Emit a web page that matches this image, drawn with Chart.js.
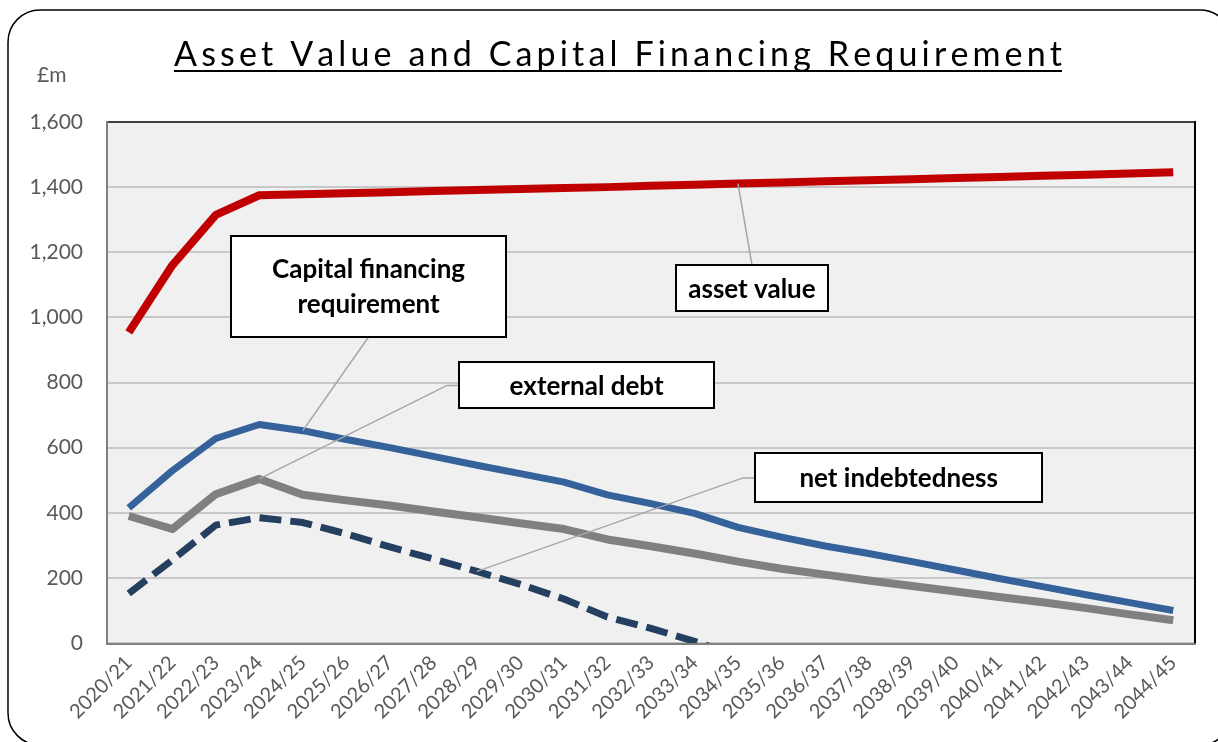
<!DOCTYPE html>
<html>
<head>
<meta charset="utf-8">
<script src="https://cdn.jsdelivr.net/npm/chart.js@4.4.0/dist/chart.umd.min.js"></script>
<style>
  html, body { margin: 0; padding: 0; background: #fff; }
  canvas { display: block; }
</style>
</head>
<body>
<canvas id="cfrChart" width="1218" height="742"></canvas>
<script>
// financial years on the x axis
const years = [
  '2020/21', '2021/22', '2022/23', '2023/24', '2024/25', '2025/26', '2026/27', '2027/28',
  '2028/29', '2029/30', '2030/31', '2031/32', '2032/33', '2033/34', '2034/35', '2035/36',
  '2036/37', '2037/38', '2038/39', '2039/40', '2040/41', '2041/42', '2042/43', '2043/44', '2044/45'
]

// £m
const assetValue = [954, 1160, 1315, 1375, 1378, 1381, 1384, 1388, 1391, 1394, 1397, 1400, 1404,
  1407, 1411, 1414, 1418, 1421, 1424, 1428, 1431, 1435, 1438, 1442, 1446]
const capitalFinancing = [415, 529, 628, 671, 652, 625, 600, 573, 546, 520, 494, 455, 428,
  398, 355, 325, 298, 275, 250, 224, 198, 173, 148, 124, 100]
const externalDebt = [390, 350, 457, 504, 455, 438, 422, 404, 386, 368, 350, 318, 297,
  275, 250, 228, 210, 192, 175, 158, 141, 125, 107, 88, 70]
// goes below zero after 2033/34 and is cut off by the axis
const netIndebtedness = [152, 255, 362, 385, 370, 335, 295, 258, 220, 180, 135, 80, 45,
  5, -40, -85, -130, -175, -220, -265, -310, -355, -400, -445, -490]

const yMin = 0
const yMax = 1600
const yStep = 200

const titleText = 'Asset Value and Capital Financing Requirement'
const unitText = '£m'

// callout boxes: centre in data units (category index, value), leader goes to a data point
const callouts = [
  {lines: ['Capital financing', 'requirement'], dataset: 1, point: 4, at: [5.51, 1096], w: 275, h: 101, from: 'bottom'},
  {lines: ['asset value'], dataset: 0, point: 14, at: [14.32, 1089], w: 152, h: 46, from: 'top'},
  {lines: ['external debt'], dataset: 2, point: 3, at: [10.52, 791], w: 255, h: 46, from: 'left'},
  {lines: ['net indebtedness'], dataset: 3, point: 8, at: [17.69, 507], w: 287, h: 49, from: 'left'}
]

const FONT = 'Lato, "Open Sans", sans-serif'

const frame = {
  id: 'frame',
  beforeDraw(chart) {
    const {ctx, chartArea: a} = chart
    ctx.save()
    ctx.fillStyle = '#f0f0f0'
    ctx.fillRect(a.left, a.top, a.right - a.left, a.bottom - a.top)
    ctx.restore()
  },
  afterDatasetsDraw(chart) {
    const {ctx, chartArea: a} = chart
    ctx.save()
    ctx.lineWidth = 2
    ctx.strokeStyle = '#404040'
    ctx.beginPath(); ctx.moveTo(a.left, a.top); ctx.lineTo(a.right, a.top); ctx.stroke()
    ctx.strokeStyle = '#000'
    ctx.beginPath(); ctx.moveTo(a.right, a.top - 1); ctx.lineTo(a.right, a.bottom); ctx.stroke()
    ctx.strokeStyle = '#808080'
    ctx.beginPath(); ctx.moveTo(a.left, a.top - 1); ctx.lineTo(a.left, a.bottom + 1); ctx.lineTo(a.right + 1, a.bottom + 1); ctx.stroke()
    ctx.restore()
  }
}

const callout = {
  id: 'callout',
  afterDatasetsDraw(chart) {
    const {ctx} = chart
    const xs = chart.scales.x
    const ys = chart.scales.y
    callouts.forEach(c => {
      const pt = chart.getDatasetMeta(c.dataset).data[c.point]
      const cx = xs.getPixelForValue(c.at[0])
      const cy = ys.getPixelForValue(c.at[1])
      const left = Math.round(cx - c.w / 2)
      const top = Math.round(cy - c.h / 2)
      ctx.save()
      ctx.strokeStyle = '#a6a6a6'
      ctx.lineWidth = 1.5
      ctx.beginPath()
      if (c.from === 'bottom') {
        ctx.moveTo(cx, top + c.h)
      } else if (c.from === 'top') {
        ctx.moveTo(cx, top)
      } else {
        ctx.moveTo(left, cy)
        ctx.lineTo(left - 12, cy)
      }
      ctx.lineTo(pt.x, pt.y)
      ctx.stroke()

      ctx.fillStyle = '#fff'
      ctx.fillRect(left, top, c.w, c.h)
      ctx.strokeStyle = '#000'
      ctx.lineWidth = 2
      ctx.strokeRect(left, top, c.w, c.h)

      ctx.fillStyle = '#000'
      ctx.font = 'bold 26px ' + FONT
      ctx.textAlign = 'center'
      ctx.textBaseline = 'middle'
      const lh = 35
      const y0 = cy - (c.lines.length - 1) * lh / 2
      c.lines.forEach((t, i) => ctx.fillText(t, cx, y0 + i * lh + 1))
      ctx.restore()
    })
  }
}

const decor = {
  id: 'decor',
  afterDraw(chart) {
    const {ctx} = chart
    ctx.save()
    // rounded outer border
    ctx.strokeStyle = '#000'
    ctx.lineWidth = 1.5
    ctx.beginPath()
    ctx.roundRect(8, 10, 1224, 735, 32)
    ctx.stroke()

    // letter-spaced, underlined title
    ctx.font = '34px ' + FONT
    ctx.fillStyle = '#000'
    ctx.textBaseline = 'alphabetic'
    ctx.textAlign = 'left'
    const tLeft = 174, tRight = 1062
    const chars = titleText.split('')
    const widths = chars.map(ch => ctx.measureText(ch).width)
    const sum = widths.reduce((s, w) => s + w, 0)
    const gap = (tRight - tLeft - sum) / (chars.length - 1)
    let x = tLeft
    chars.forEach((ch, i) => { ctx.fillText(ch, x, 66); x += widths[i] + gap })
    ctx.fillRect(tLeft, 70, tRight - tLeft, 2)

    // unit label
    ctx.font = '21px ' + FONT
    ctx.fillStyle = '#595959'
    ctx.fillText(unitText, 37, 82)
    ctx.restore()
  }
}

const ctx = document.getElementById('cfrChart').getContext('2d')
const myChart = new Chart(ctx, {
  type: 'line',
  data: {
    labels: years,
    datasets: [
      {label: 'asset value', data: assetValue, borderColor: '#c00000', borderWidth: 8},
      {label: 'Capital financing requirement', data: capitalFinancing, borderColor: '#35629a', borderWidth: 7},
      {label: 'external debt', data: externalDebt, borderColor: '#808080', borderWidth: 8},
      {label: 'net indebtedness', data: netIndebtedness, borderColor: '#243f60', borderWidth: 7, borderDash: [22, 9]}
    ]
  },
  options: {
    responsive: false,
    animation: false,
    events: [],
    layout: {padding: {left: 0, top: 122, right: 23, bottom: 0}},
    elements: {
      line: {tension: 0, borderCapStyle: 'butt', borderJoinStyle: 'round', fill: false},
      point: {radius: 0}
    },
    plugins: {legend: {display: false}, title: {display: false}, tooltip: {enabled: false}},
    scales: {
      x: {
        offset: true,
        grid: {display: false, drawTicks: false},
        border: {display: false},
        ticks: {
          autoSkip: false, minRotation: 45, maxRotation: 45, padding: 8,
          color: '#595959', font: {family: FONT, size: 20}
        },
        afterFit: s => { s.height = 99 }
      },
      y: {
        min: yMin, max: yMax,
        grid: {color: '#c8c8c8', lineWidth: 2, drawTicks: false},
        border: {display: false},
        ticks: {
          stepSize: yStep, padding: 24, color: '#595959', font: {family: FONT, size: 21},
          callback: v => v.toLocaleString('en-GB')
        },
        afterFit: s => { s.width = 107 }
      }
    }
  },
  plugins: [frame, callout, decor]
})
</script>
</body>
</html>
